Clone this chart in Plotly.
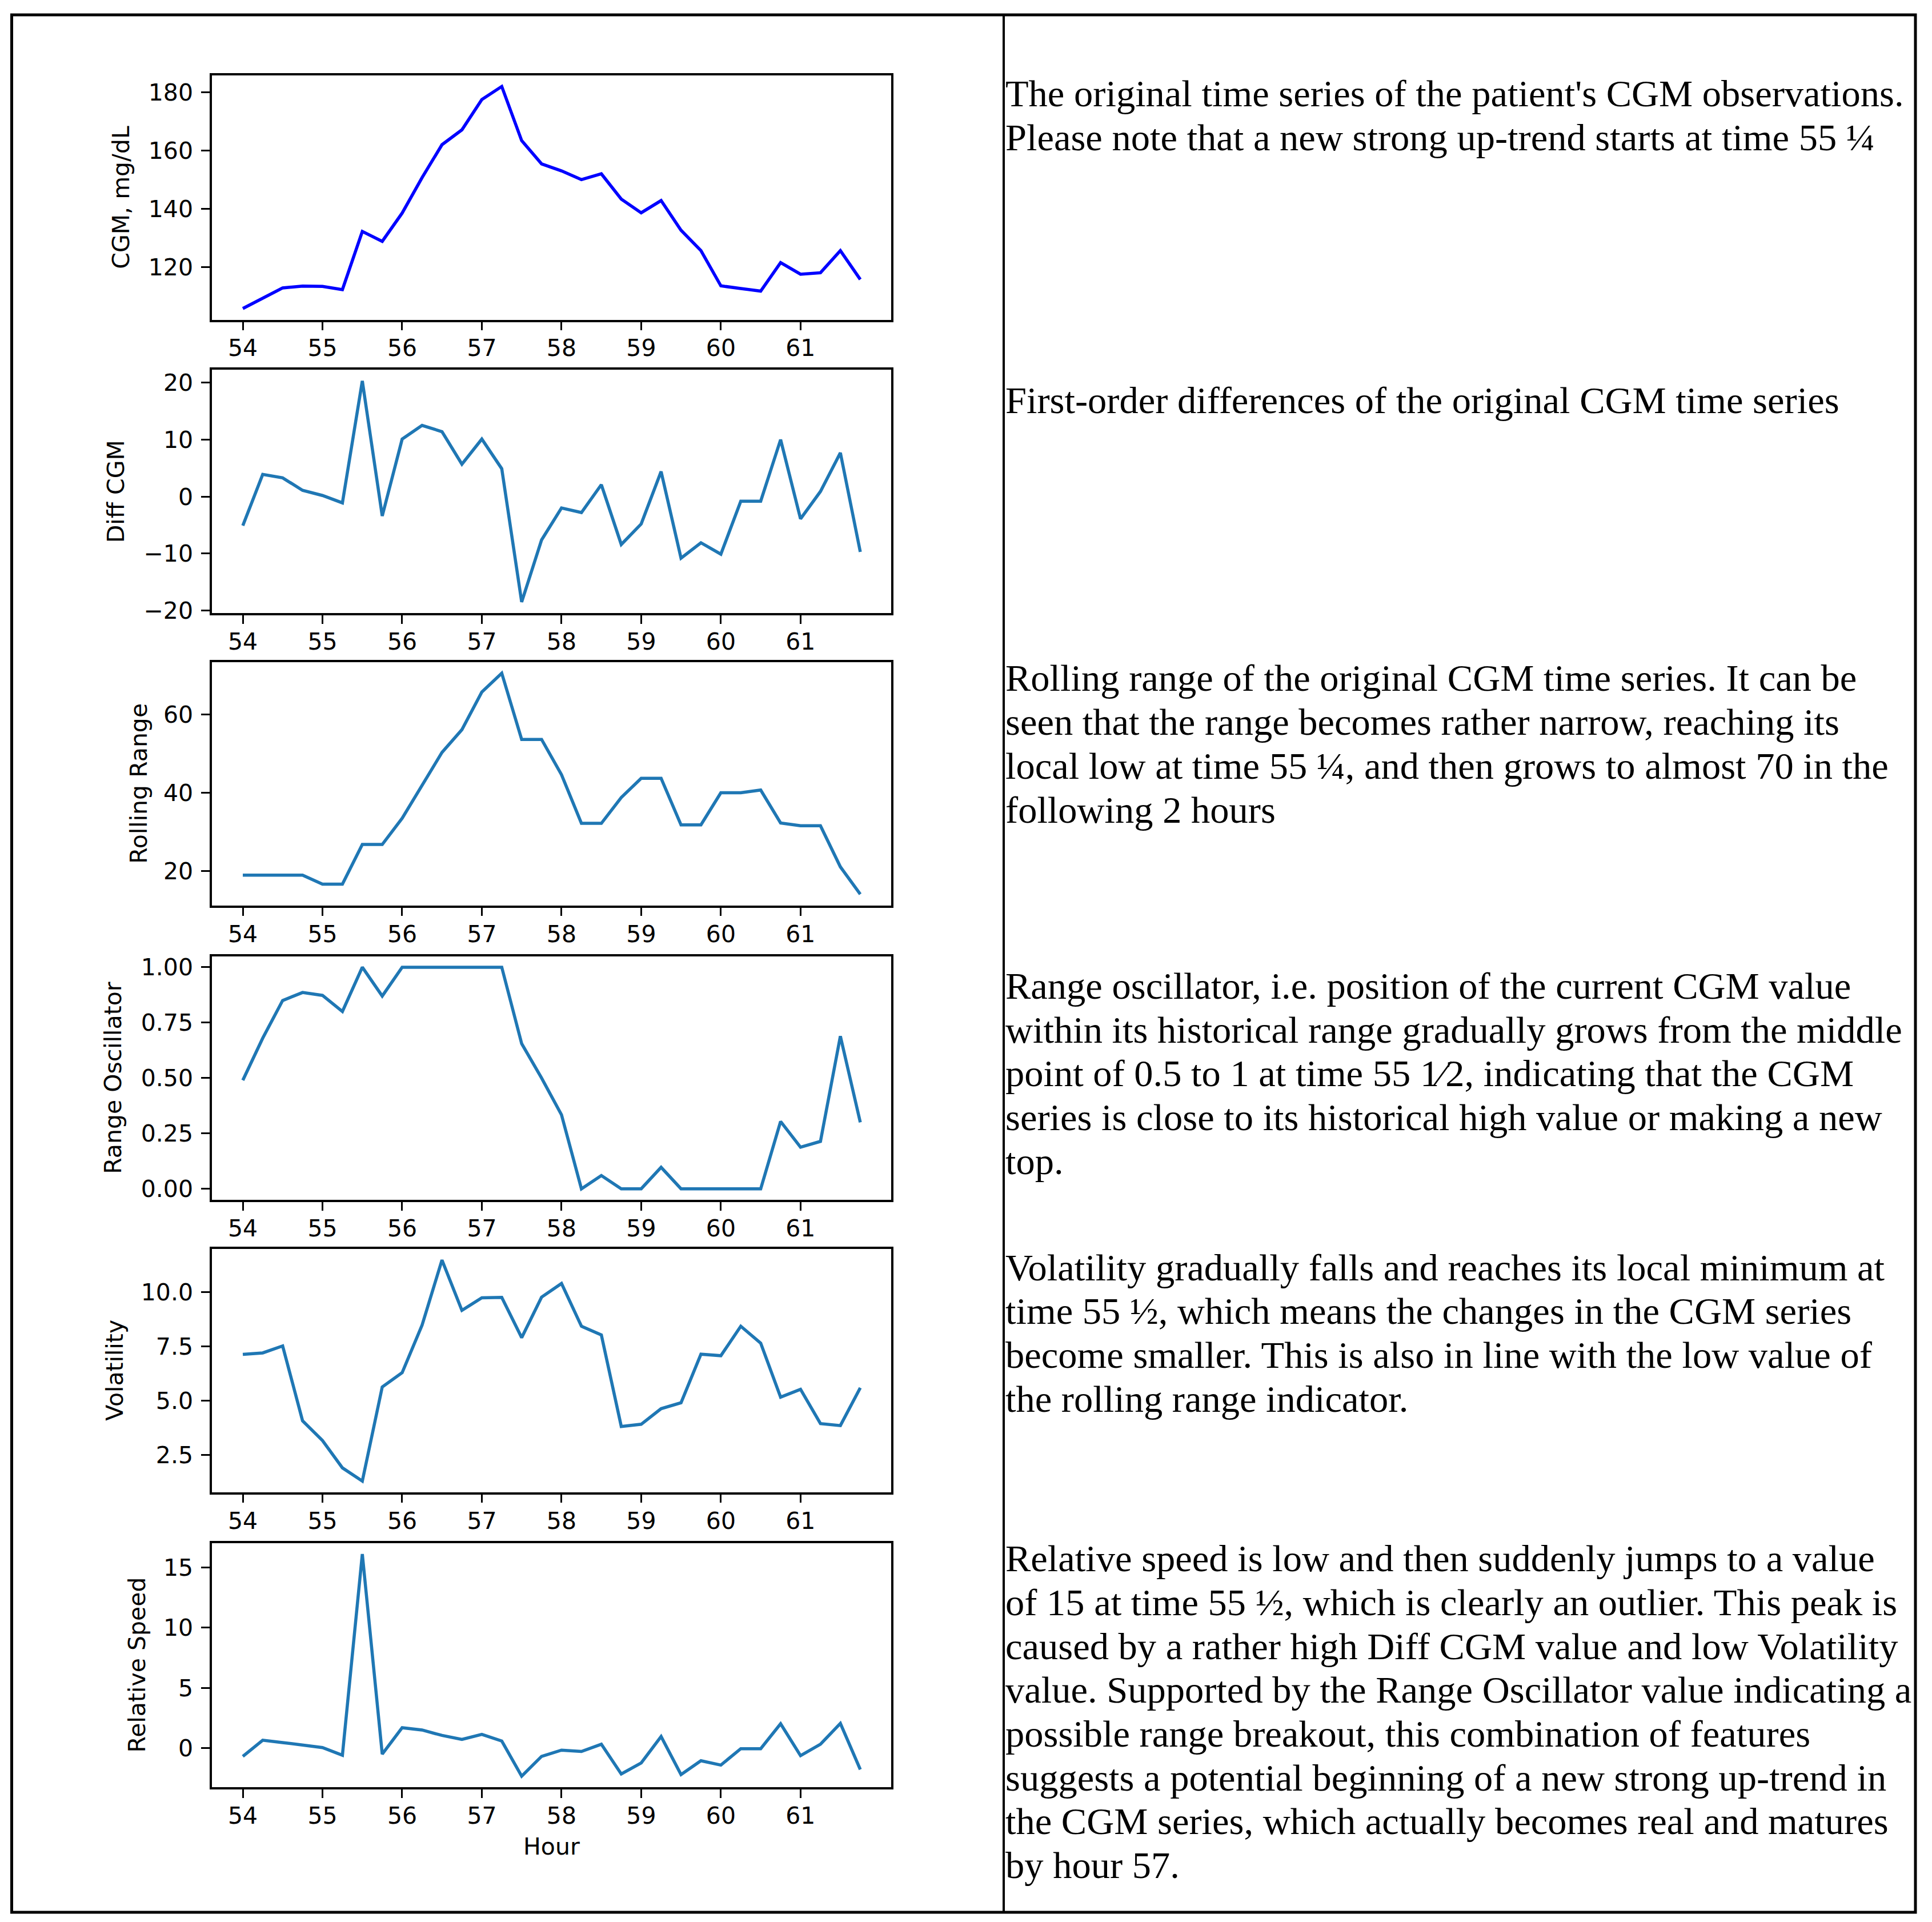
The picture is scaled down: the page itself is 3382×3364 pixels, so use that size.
import plotly.graph_objects as go

W = 3382
H_REF = 3364      # target picture height
H_FIG = 3385      # page height that the capture squeezes into H_REF

# ---------------- data ----------------
hours = [54.0, 54.25, 54.5, 54.75, 55.0, 55.25, 55.5, 55.75,
         56.0, 56.25, 56.5, 56.75, 57.0, 57.25, 57.5, 57.75,
         58.0, 58.25, 58.5, 58.75, 59.0, 59.25, 59.5, 59.75,
         60.0, 60.25, 60.5, 60.75, 61.0, 61.25, 61.5, 61.75]

cgm = [105.7, 109.3, 112.8, 113.4, 113.3, 112.2, 132.2, 128.8,
       138.5, 150.7, 162.0, 167.1, 177.5, 182.0, 163.4, 155.4,
       153.0, 150.0, 152.0, 143.3, 138.6, 142.8, 132.6, 125.6,
       113.5, 112.6, 111.7, 121.5, 117.5, 118.0, 125.6, 115.7]

diff_cgm = [-5.1, 3.9, 3.3, 1.1, 0.2, -1.1, 20.3, -3.4,
            10.1, 12.5, 11.4, 5.7, 10.1, 4.9, -18.5, -7.6,
            -2.0, -2.8, 2.1, -8.4, -4.8, 4.4, -10.8, -8.1,
            -10.1, -0.8, -0.8, 10.0, -3.9, 0.9, 7.7, -9.7]

rolling_range = [19.0, 19.0, 19.0, 19.0, 16.7, 16.7, 26.8, 26.8,
                 33.5, 41.8, 50.3, 56.1, 65.7, 70.5, 53.6, 53.6,
                 44.6, 32.2, 32.2, 38.8, 43.7, 43.7, 31.8, 31.8,
                 40.0, 40.0, 40.7, 32.3, 31.6, 31.6, 21.1, 14.1]

range_osc = [0.49, 0.68, 0.85, 0.886, 0.873, 0.80, 1.0, 0.87,
             1.0, 1.0, 1.0, 1.0, 1.0, 1.0, 0.655, 0.50,
             0.334, 0.0, 0.06, 0.0, 0.0, 0.097, 0.0, 0.0,
             0.0, 0.0, 0.0, 0.304, 0.188, 0.214, 0.689, 0.30]

volatility = [7.13, 7.2, 7.52, 4.07, 3.16, 1.9, 1.29, 5.63,
              6.29, 8.48, 11.48, 9.16, 9.74, 9.76, 7.9, 9.77,
              10.4, 8.43, 8.03, 3.81, 3.91, 4.63, 4.9, 7.14,
              7.07, 8.43, 7.65, 5.16, 5.52, 3.94, 3.85, 5.59]

rel_speed = [-0.68, 0.66, 0.47, 0.24, 0.05, -0.58, 16.1, -0.49,
             1.7, 1.51, 1.06, 0.73, 1.15, 0.6, -2.32, -0.68,
             -0.16, -0.27, 0.33, -2.14, -1.22, 0.97, -2.19, -1.04,
             -1.4, -0.04, -0.04, 2.03, -0.62, 0.33, 2.06, -1.77]

x_ticks = [54, 55, 56, 57, 58, 59, 60, 61]

panel_labels = ["CGM, mg/dL", "Diff CGM", "Rolling Range",
                "Range Oscillator", "Volatility", "Relative Speed"]
panel_series = [cgm, diff_cgm, rolling_range, range_osc, volatility, rel_speed]
panel_ticks = [[120, 140, 160, 180], [-20, -10, 0, 10, 20], [20, 40, 60],
               [0.0, 0.25, 0.5, 0.75, 1.0], [2.5, 5.0, 7.5, 10.0], [0, 5, 10, 15]]
panel_fmt = ["d", "d", "d", ".2f", ".1f", "d"]
panel_colors = ["#0000ff", "#1f77b4", "#1f77b4", "#1f77b4", "#1f77b4", "#1f77b4"]

captions = [
    ["The original time series of the patient's CGM observations.",
     "Please note that a new strong up-trend starts at time 55 \u00bc"],
    ["First-order differences of the original CGM time series"],
    ["Rolling range of the original CGM time series. It can be",
     "seen that the range becomes rather narrow, reaching its",
     "local low at time 55 \u00bc, and then grows to almost 70 in the",
     "following 2 hours"],
    ["Range oscillator, i.e. position of the current CGM value",
     "within its historical range gradually grows from the middle",
     "point of 0.5 to 1 at time 55 1\u20442, indicating that the CGM",
     "series is close to its historical high value or making a new",
     "top."],
    ["Volatility gradually falls and reaches its local minimum at",
     "time 55 \u00bd, which means the changes in the CGM series",
     "become smaller. This is also in line with the low value of",
     "the rolling range indicator."],
    ["Relative speed is low and then suddenly jumps to a value",
     "of 15 at time 55 \u00bd, which is clearly an outlier. This peak is",
     "caused by a rather high Diff CGM value and low Volatility",
     "value. Supported by the Range Oscillator value indicating a",
     "possible range breakout, this combination of features",
     "suggests a potential beginning of a new strong up-trend in",
     "the CGM series, which actually becomes real and matures",
     "by hour 57."],
]

# ---------------- layout geometry (pixels in target picture) ----------------
ax_left, ax_right = 371, 1560
ax_tops = [128, 644, 1156, 1671, 2184, 2699]
ax_bots = [556, 1070, 1582, 2098, 2610, 3127]
ylabel_x = [212, 203, 243, 198, 201, 240]
caption_y0 = [160, 697, 1184, 1723, 2216, 2726]
caption_dy = 76.8
caption_x = 1758
frame_top, frame_bot = 22, 3346

def px(x):
    return x / W

def py(y):
    return 1 - y / H_REF

TICK_FONT = dict(family="DejaVu Sans", size=41, color="black")

fig = go.Figure()
layout = dict(width=W, height=H_FIG, margin=dict(l=0, r=0, t=0, b=0),
              paper_bgcolor="white", plot_bgcolor="white", showlegend=False)

xr0, xr1 = min(hours), max(hours)
xpad = 0.05 * (xr1 - xr0)
annotations = []
for i in range(6):
    n = "" if i == 0 else str(i + 1)
    vals = panel_series[i]
    fig.add_trace(go.Scatter(x=hours, y=vals, mode="lines",
                             line=dict(color=panel_colors[i], width=5.5),
                             xaxis="x" + n, yaxis="y" + n))
    lo, hi = min(vals), max(vals)
    pad = 0.05 * (hi - lo)
    common = dict(showgrid=False, zeroline=False, showline=True, linecolor="black",
                  linewidth=3.5, mirror=True, ticks="outside", ticklen=15,
                  tickwidth=3.3, tickcolor="black", tickfont=TICK_FONT)
    layout["xaxis" + n] = dict(domain=[px(ax_left), px(ax_right)],
                               range=[xr0 - xpad, xr1 + xpad],
                               tickvals=x_ticks, anchor="y" + n,
                               ticklabelstandoff=-4, **common)
    layout["yaxis" + n] = dict(domain=[py(ax_bots[i]), py(ax_tops[i])],
                               range=[lo - pad, hi + pad],
                               tickvals=panel_ticks[i], tickformat=panel_fmt[i],
                               anchor="x" + n, ticklabelstandoff=6, **common)
    annotations.append(dict(text=panel_labels[i], x=px(ylabel_x[i]),
                            y=py((ax_tops[i] + ax_bots[i]) / 2), xref="paper", yref="paper",
                            textangle=-90, showarrow=False, xanchor="center", yanchor="middle",
                            font=TICK_FONT))
    for k, line in enumerate(captions[i]):
        annotations.append(dict(text=line, x=px(caption_x), y=py(caption_y0[i] + k * caption_dy),
                                xref="paper", yref="paper", showarrow=False,
                                xanchor="left", yanchor="middle", align="left",
                                font=dict(family="Liberation Serif", size=66.5, color="black")))

annotations.append(dict(text="Hour", x=px((ax_left + ax_right) / 2), y=py(3231),
                        xref="paper", yref="paper", showarrow=False,
                        xanchor="center", yanchor="middle", font=TICK_FONT))
layout["annotations"] = annotations
layout["shapes"] = [
    dict(type="rect", xref="paper", yref="paper", x0=px(20.5), x1=px(3353),
         y0=py(frame_bot), y1=py(frame_top), line=dict(color="black", width=5)),
    dict(type="line", xref="paper", yref="paper", x0=px(1757), x1=px(1757),
         y0=py(frame_bot), y1=py(frame_top), line=dict(color="black", width=4)),
]
fig.update_layout(**layout)

fix_page = (
    "document.documentElement.style.margin='0px';"
    "document.body.style.margin='0px';"
    "document.documentElement.style.overflow='hidden';"
    "document.body.style.overflow='hidden';"
    "var gd=document.querySelector('.plotly-graph-div');"
    "gd.style.position='absolute';gd.style.left='0px';gd.style.top='0px';"
)
fig.write_html("out.html", config={"displayModeBar": False}, post_script=fix_page)
